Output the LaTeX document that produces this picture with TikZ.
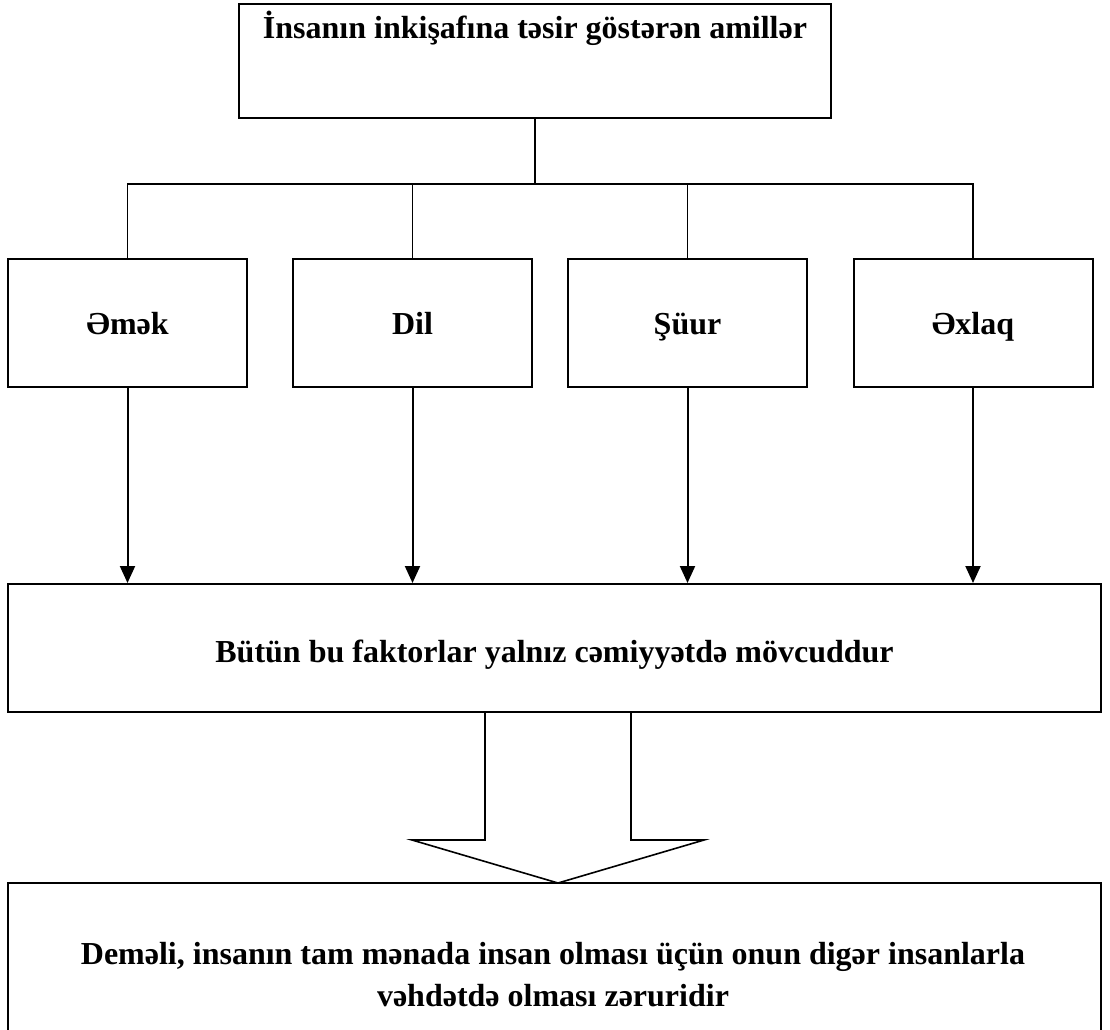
\documentclass[tikz,border=0pt]{standalone}
\usepackage{fontspec}
\setmainfont{Liberation Serif}
\usetikzlibrary{arrows.meta}
\begin{document}
\begin{tikzpicture}[x=1pt,y=-1pt,
  frame/.style={draw=black, line width=2pt, inner sep=0pt},
  lbl/.style={font=\fontsize{32}{42}\selectfont\bfseries, align=center, inner sep=0pt},
  conn/.style={draw=black, line width=1.5pt},
  arr/.style={draw=black, line width=2pt, -{Triangle[width=15pt,length=17pt]}},
  blockarrow/.style={draw=black, line width=1.6pt, line join=miter}]
\useasboundingbox (0,0) rectangle (1110,1029);

% top box
\node[frame, minimum width=592pt, minimum height=114pt] (top) at (535,61) {};
\node[lbl, anchor=base] (toptxt) at (535,38) {İnsanın inkişafına təsir göstərən amillər};

% factor boxes
\node[frame, minimum width=239pt, minimum height=128pt] (emek)  at (127.5,323) {};
\node[frame, minimum width=239pt, minimum height=128pt] (dil)   at (412.5,323) {};
\node[frame, minimum width=239pt, minimum height=128pt] (suur)  at (687.5,323) {};
\node[frame, minimum width=239pt, minimum height=128pt] (exlaq) at (973,323) {};
\node[lbl, anchor=base] (emektxt)  at (127.5,334) {Əmək};
\node[lbl, anchor=base] (diltxt)   at (412.5,334) {Dil};
\node[lbl, anchor=base] (suurtxt)  at (687.5,334) {Şüur};
\node[lbl, anchor=base] (exlaqtxt) at (973,334) {Əxlaq};

% big box
\node[frame, minimum width=1093pt, minimum height=128pt] (big) at (554.5,648) {};
\node[lbl, anchor=base] (bigtxt) at (554.5,662) {Bütün bu faktorlar yalnız cəmiyyətdə mövcuddur};

% bottom box (bottom edge lies outside the picture)
\node[frame, minimum width=1093pt, minimum height=160pt] (bot) at (554.5,963) {};
\node[lbl] (bottxt) at (553,975) {Deməli, insanın tam mənada insan olması üçün onun digər insanlarla\\vəhdətdə olması zəruridir};

% tree connectors
\coordinate (bus) at (0,184);
\draw[conn] (top.south) -- (top.south |- bus);
\draw[conn] (emek.north) -- (emek.north |- bus) -- (exlaq.north |- bus) -- (exlaq.north);
\draw[conn] (dil.north) -- (dil.north |- bus);
\draw[conn] (suur.north) -- (suur.north |- bus);

% arrows to big box
\draw[arr] (emek.south) -- (emek.south |- big.north);
\draw[arr] (dil.south) -- (dil.south |- big.north);
\draw[arr] (suur.south) -- (suur.south |- big.north);
\draw[arr] (exlaq.south) -- (exlaq.south |- big.north);

% block arrow
\coordinate (sl) at (485,712);
\coordinate (sr) at (631,712);
\coordinate (hl) at (412,840);
\coordinate (hr) at (704,840);
\coordinate (tip) at (558,883);
\draw[blockarrow] (sl) -- (sl |- hl) -- (hl) -- (tip) -- (hr) -- (sr |- hr) -- (sr);
\end{tikzpicture}
\end{document}
